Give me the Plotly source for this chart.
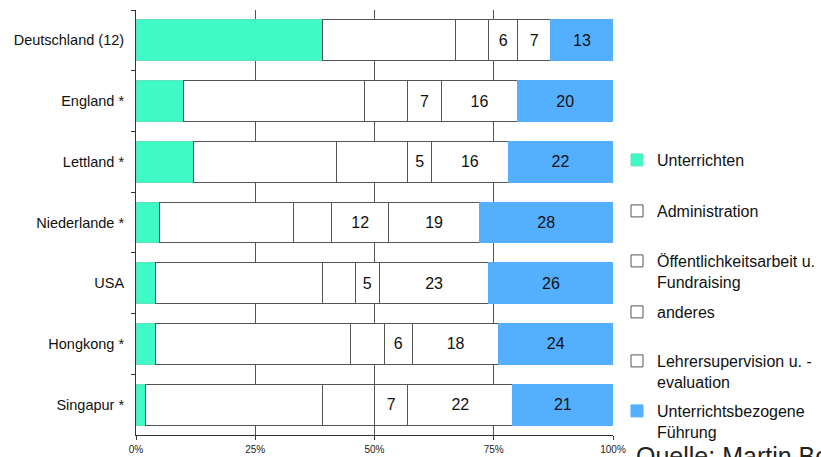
import plotly.graph_objects as go

countries = ["Deutschland (12)", "England *", "Lettland *", "Niederlande *", "USA", "Hongkong *", "Singapur *"]
unterrichten = [39, 10, 12, 5, 4, 4, 2]
administration = [28, 38, 30, 28, 35, 41, 37]
oeffentlichkeit = [7, 9, 15, 8, 7, 7, 11]
anderes = [6, 7, 5, 12, 5, 6, 7]
lehrersupervision = [7, 16, 16, 19, 23, 18, 22]
fuehrung = [13, 20, 22, 28, 26, 24, 21]

series_names = ["Unterrichten", "Administration", "Öffentlichkeitsarbeit u.<br>Fundraising",
                "anderes", "Lehrersupervision u. -<br>evaluation", "Unterrichtsbezogene<br>Führung"]
series_values = [unterrichten, administration, oeffentlichkeit, anderes, lehrersupervision, fuehrung]
series_fill = ["#3ff9c6", "#ffffff", "#ffffff", "#ffffff", "#ffffff", "#55afff"]
series_line = ["#5fe3bd", "#555555", "#555555", "#555555", "#555555", "#55afff"]
series_labels = [False, False, False, True, True, True]
legend_centers = [155, 206, 256, 307, 356, 406]  # pixel y used to place each legend

W, H = 821, 457
L, R, T, B = 136, 208, 10, 22
plot_h = H - T - B
plot_w = W - L - R
FONT = "Liberation Sans, Arial, sans-serif"

fig = go.Figure()
for i, (name, vals) in enumerate(zip(series_names, series_values)):
    lid = "legend" if i == 0 else f"legend{i+1}"
    fig.add_trace(go.Bar(
        y=countries, x=vals, orientation="h", name=name,
        marker=dict(color=series_fill[i], line=dict(color=series_line[i], width=1)),
        text=[str(v) for v in vals] if series_labels[i] else None,
        textposition="inside" if series_labels[i] else "none",
        insidetextanchor="middle", textangle=0,
        textfont=dict(size=16, color="#111111", family=FONT),
        legend=lid, hoverinfo="skip",
    ))

legend_common = dict(
    font=dict(size=16, color="#111111", family=FONT),
    bgcolor="rgba(0,0,0,0)", borderwidth=0, valign="top",
    xanchor="left", yanchor="top", itemwidth=30, tracegroupgap=0,
)
layout_legends = {}
for i, c in enumerate(legend_centers):
    lid = "legend" if i == 0 else f"legend{i+1}"
    d = dict(legend_common)
    d["x"] = (617 - L) / plot_w
    d["y"] = (T + plot_h - (c - 12)) / plot_h
    layout_legends[lid] = d

fig.update_layout(
    width=W, height=H,
    margin=dict(l=L, r=R, t=T, b=B, pad=0, autoexpand=False),
    barmode="stack", bargap=0.325,
    plot_bgcolor="white", paper_bgcolor="white",
    font=dict(family=FONT, color="#111111"),
    uniformtext=dict(minsize=16, mode="show"),
    xaxis=dict(
        range=[0, 100], tickvals=[0, 25, 50, 75, 100],
        ticktext=["0%", "25%", "50%", "75%", "100%"],
        showgrid=True, gridcolor="#555555", gridwidth=1,
        showline=True, linecolor="#333333", linewidth=1,
        ticks="outside", ticklen=4, tickcolor="#333333",
        tickfont=dict(size=10, color="#222222"), ticklabelstandoff=1,
        zeroline=False, fixedrange=True,
    ),
    yaxis=dict(
        categoryorder="array", categoryarray=countries, autorange="reversed",
        showline=True, linecolor="#333333", linewidth=1,
        ticks="outside", ticklen=4, tickcolor="#333333", tickson="boundaries",
        tickfont=dict(size=14.5, color="#111111"), ticklabelstandoff=8,
        showgrid=False, fixedrange=True,
    ),
    showlegend=True,
    **layout_legends,
)

fig.add_annotation(
    text="Quelle: Martin Bonsen", xref="paper", yref="paper",
    x=(634 - L) / plot_w, y=(T + plot_h - 440) / plot_h,
    xanchor="left", yanchor="top", showarrow=False,
    font=dict(size=25, color="#222222", family=FONT),
)

fig.write_html("out.html")
